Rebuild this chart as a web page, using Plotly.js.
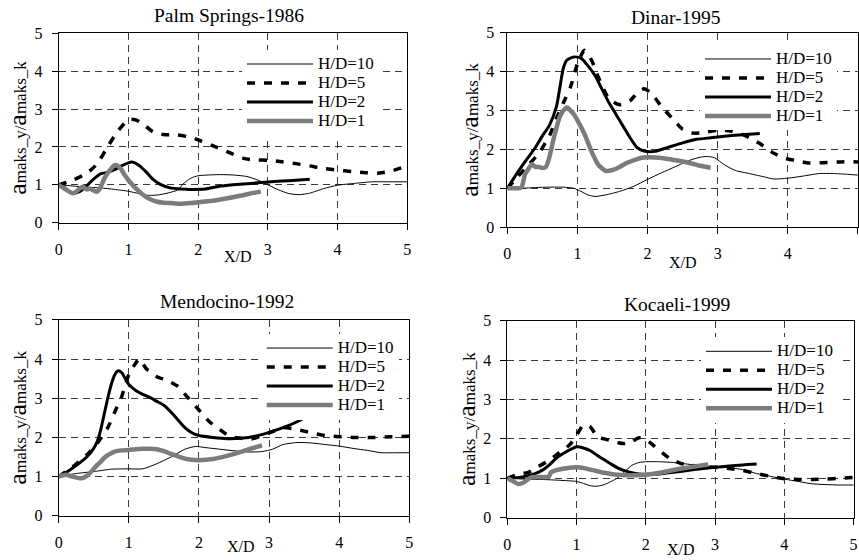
<!DOCTYPE html>
<html><head><meta charset="utf-8">
<script src="https://cdn.plot.ly/plotly-3.0.1.min.js"></script>
<style>html,body{margin:0;padding:0;background:#fff}#chart{width:859px;height:560px}</style>
</head><body><div id="chart"></div>
<script>
const seriesNames = ['H/D=10', 'H/D=5', 'H/D=2', 'H/D=1'];
const panelTitles = ['Palm Springs-1986', 'Dinar-1995', 'Mendocino-1992', 'Kocaeli-1999'];
const tickValues = [0, 1, 2, 3, 4, 5];
const xTitleText = 'X/D';

// Palm Springs-1986
const ps_x10 = [0,0.2,0.4,0.6,0.8,1.0,1.15,1.3,1.45,1.6,1.7,1.8,1.9,2.0,2.15,2.3,2.5,2.7,2.85,3.0,3.15,3.3,3.45,3.6,3.8,4.0,4.25,4.5,4.75,5.0];
const ps_y10 = [1.0,0.97,0.94,0.92,0.88,0.83,0.77,0.72,0.74,0.8,0.86,1.05,1.18,1.24,1.26,1.27,1.26,1.22,1.13,1.0,0.87,0.77,0.74,0.78,0.9,0.99,1.04,1.08,1.08,1.08];
const ps_x5 = [0,0.2,0.4,0.55,0.7,0.85,1.0,1.1,1.2,1.35,1.5,1.7,1.9,2.05,2.25,2.45,2.65,2.8,3.0,3.2,3.4,3.6,3.8,4.0,4.2,4.4,4.6,4.8,5.0];
const ps_y5 = [1.0,1.12,1.3,1.55,2.0,2.42,2.72,2.72,2.62,2.4,2.33,2.32,2.25,2.15,2.0,1.85,1.7,1.66,1.65,1.61,1.56,1.5,1.43,1.39,1.35,1.32,1.31,1.38,1.5];
const ps_x2 = [0,0.1,0.2,0.3,0.4,0.5,0.6,0.7,0.8,0.9,1.0,1.05,1.15,1.25,1.35,1.45,1.6,1.75,1.9,2.1,2.3,2.5,2.7,2.9,3.1,3.3,3.6];
const ps_y2 = [1.0,0.9,0.78,0.82,0.97,1.15,1.29,1.33,1.4,1.5,1.58,1.6,1.52,1.35,1.15,1.02,0.92,0.89,0.88,0.89,0.96,1.0,1.03,1.06,1.09,1.11,1.15];
const ps_x1 = [0,0.1,0.2,0.25,0.3,0.35,0.4,0.45,0.5,0.55,0.6,0.65,0.7,0.75,0.8,0.85,0.9,0.95,1.0,1.1,1.2,1.3,1.4,1.5,1.6,1.75,1.9,2.0,2.2,2.4,2.6,2.75,2.9];
const ps_y1 = [1.0,0.88,0.78,0.82,0.9,0.95,0.88,0.9,0.85,0.82,0.93,1.15,1.3,1.42,1.52,1.5,1.4,1.25,1.12,0.92,0.75,0.63,0.56,0.53,0.52,0.5,0.52,0.54,0.58,0.64,0.71,0.77,0.82];

// Dinar-1995
const di_x10 = [0,0.2,0.4,0.6,0.8,0.95,1.05,1.15,1.25,1.4,1.6,1.8,2.0,2.2,2.4,2.6,2.75,2.85,2.95,3.1,3.25,3.45,3.65,3.8,4.0,4.2,4.45,4.65,4.85,5.0];
const di_y10 = [1.0,1.0,1.02,1.03,1.03,1.0,0.92,0.83,0.79,0.83,0.92,1.05,1.23,1.4,1.56,1.72,1.8,1.82,1.79,1.6,1.46,1.38,1.3,1.24,1.26,1.31,1.38,1.38,1.36,1.34];
const di_x5 = [0,0.15,0.3,0.45,0.6,0.7,0.8,0.9,1.0,1.1,1.2,1.3,1.45,1.6,1.75,1.85,1.95,2.05,2.2,2.35,2.5,2.65,2.8,3.0,3.2,3.4,3.6,3.8,3.95,4.1,4.3,4.5,4.75,5.0];
const di_y5 = [1.0,1.3,1.6,1.9,2.35,2.8,3.2,3.6,4.2,4.55,4.3,3.85,3.3,3.15,3.25,3.45,3.56,3.45,3.1,2.8,2.52,2.42,2.43,2.5,2.47,2.35,2.15,1.9,1.78,1.72,1.65,1.66,1.68,1.68];
const di_x2 = [0,0.1,0.2,0.3,0.4,0.5,0.6,0.7,0.75,0.8,0.85,0.95,1.05,1.15,1.25,1.35,1.45,1.55,1.65,1.75,1.85,1.95,2.1,2.3,2.5,2.7,2.9,3.1,3.3,3.6];
const di_y2 = [1.0,1.28,1.55,1.8,2.05,2.35,2.62,3.1,3.6,4.1,4.3,4.38,4.35,4.15,3.9,3.55,3.2,2.9,2.6,2.3,2.05,1.96,1.95,2.06,2.17,2.26,2.3,2.34,2.37,2.41];
const di_x1 = [0,0.1,0.2,0.25,0.3,0.35,0.4,0.45,0.5,0.55,0.6,0.65,0.7,0.75,0.8,0.85,0.9,0.95,1.0,1.1,1.2,1.3,1.4,1.5,1.6,1.7,1.8,1.9,2.0,2.2,2.4,2.6,2.75,2.9];
const di_y1 = [1.0,1.0,1.02,1.35,1.5,1.62,1.55,1.55,1.52,1.55,1.8,2.2,2.55,2.85,3.0,3.08,3.0,2.9,2.75,2.4,1.95,1.6,1.45,1.47,1.55,1.65,1.72,1.78,1.8,1.78,1.72,1.65,1.58,1.53];

// Mendocino-1992
const me_x10 = [0,0.25,0.5,0.75,1.0,1.2,1.4,1.6,1.8,1.95,2.1,2.3,2.5,2.7,2.9,3.05,3.2,3.4,3.6,3.8,4.0,4.2,4.4,4.6,4.8,5.0];
const me_y10 = [1.0,1.08,1.13,1.19,1.2,1.2,1.33,1.5,1.7,1.77,1.74,1.7,1.66,1.63,1.64,1.7,1.82,1.87,1.86,1.82,1.78,1.72,1.67,1.61,1.61,1.61];
const me_x5 = [0,0.2,0.4,0.55,0.7,0.8,0.9,1.0,1.1,1.15,1.25,1.4,1.55,1.7,1.85,2.0,2.15,2.3,2.45,2.6,2.75,2.9,3.05,3.2,3.4,3.6,3.8,4.0,4.2,4.5,4.75,5.0];
const me_y5 = [1.0,1.25,1.55,1.85,2.25,2.65,3.05,3.6,3.9,4.0,3.75,3.55,3.45,3.3,3.0,2.7,2.4,2.2,2.02,1.98,1.96,2.05,2.15,2.25,2.2,2.12,2.05,2.02,2.0,2.0,2.02,2.03];
const me_x2 = [0,0.1,0.2,0.3,0.4,0.5,0.55,0.6,0.65,0.7,0.75,0.8,0.85,0.9,0.95,1.0,1.1,1.2,1.3,1.4,1.5,1.6,1.7,1.8,1.9,2.0,2.2,2.4,2.6,2.8,3.0,3.2,3.4,3.6];
const me_y2 = [1.0,1.1,1.22,1.35,1.5,1.72,1.9,2.2,2.6,3.0,3.35,3.6,3.7,3.65,3.5,3.35,3.2,3.1,3.02,2.92,2.82,2.65,2.45,2.25,2.12,2.05,2.0,1.97,1.98,2.03,2.13,2.25,2.4,2.6];
const me_x1 = [0,0.1,0.2,0.3,0.35,0.4,0.45,0.5,0.55,0.6,0.65,0.7,0.75,0.8,0.9,1.0,1.1,1.2,1.3,1.4,1.5,1.6,1.7,1.8,1.9,2.0,2.2,2.4,2.6,2.75,2.9];
const me_y1 = [1.0,1.05,1.0,0.96,0.97,1.02,1.1,1.2,1.3,1.38,1.48,1.55,1.6,1.64,1.67,1.68,1.7,1.71,1.71,1.7,1.65,1.58,1.52,1.46,1.43,1.42,1.45,1.53,1.63,1.72,1.8];

// Kocaeli-1999
const ko_x10 = [0,0.25,0.5,0.75,1.0,1.1,1.2,1.3,1.4,1.5,1.6,1.7,1.8,1.9,2.0,2.2,2.4,2.6,2.8,3.0,3.2,3.4,3.6,3.8,4.0,4.2,4.4,4.6,4.8,5.0];
const ko_y10 = [1.0,0.98,0.97,0.95,0.92,0.87,0.81,0.8,0.84,0.92,1.02,1.18,1.33,1.4,1.42,1.42,1.4,1.36,1.32,1.3,1.27,1.22,1.12,1.05,0.98,0.92,0.86,0.84,0.83,0.83];
const ko_x5 = [0,0.15,0.3,0.45,0.6,0.75,0.9,1.0,1.1,1.2,1.3,1.4,1.5,1.6,1.7,1.8,1.9,2.0,2.1,2.2,2.35,2.5,2.65,2.8,3.0,3.2,3.4,3.6,3.8,4.0,4.2,4.4,4.6,4.8,5.0];
const ko_y5 = [1.0,1.1,1.15,1.3,1.45,1.65,1.85,2.1,2.35,2.3,2.05,2.0,1.95,1.9,1.88,1.93,2.03,1.98,1.85,1.7,1.5,1.38,1.33,1.3,1.28,1.25,1.2,1.12,1.05,0.99,0.97,0.97,0.98,1.0,1.02];
const ko_x2 = [0,0.2,0.4,0.5,0.6,0.7,0.8,0.9,1.0,1.1,1.2,1.3,1.4,1.5,1.6,1.7,1.8,1.9,2.0,2.2,2.4,2.6,2.8,3.0,3.2,3.4,3.6];
const ko_y2 = [1.0,1.03,1.12,1.2,1.33,1.5,1.62,1.72,1.8,1.77,1.7,1.58,1.47,1.36,1.26,1.19,1.14,1.11,1.1,1.11,1.15,1.2,1.24,1.28,1.31,1.34,1.36];
const ko_x1 = [0,0.08,0.15,0.22,0.3,0.35,0.45,0.55,0.6,0.63,0.7,0.8,0.9,1.0,1.1,1.2,1.3,1.4,1.5,1.6,1.7,1.8,1.9,2.0,2.2,2.4,2.6,2.75,2.9];
const ko_y1 = [1.0,0.93,0.86,0.88,0.98,1.03,1.03,1.03,1.04,1.15,1.2,1.24,1.27,1.28,1.26,1.22,1.18,1.14,1.11,1.09,1.08,1.08,1.08,1.09,1.14,1.21,1.27,1.31,1.35];

const panelData = [
  [[ps_x10, ps_y10], [ps_x5, ps_y5], [ps_x2, ps_y2], [ps_x1, ps_y1]],
  [[di_x10, di_y10], [di_x5, di_y5], [di_x2, di_y2], [di_x1, di_y1]],
  [[me_x10, me_y10], [me_x5, me_y5], [me_x2, me_y2], [me_x1, me_y1]],
  [[ko_x10, ko_y10], [ko_x5, ko_y5], [ko_x2, ko_y2], [ko_x1, ko_y1]]
];

const lineStyles = [
  {color: '#000000', width: 1, dash: 'solid'},
  {color: '#000000', width: 3.5, dash: '8px,9px'},
  {color: '#000000', width: 3, dash: 'solid'},
  {color: '#7c7c7c', width: 4.5, dash: 'solid'}
];

const FONT = 'Liberation Serif, Times New Roman, serif';
const traces = [];
panelData.forEach((panel, p) => {
  const sfx = p === 0 ? '' : String(p + 1);
  panel.forEach((s, i) => {
    traces.push({
      type: 'scatter', mode: 'lines',
      x: s[0], y: s[1],
      xaxis: 'x' + sfx, yaxis: 'y' + sfx,
      name: '<span style="font-size:17px">' + seriesNames[i] + '</span>',
      legend: 'legend' + sfx,
      line: Object.assign({shape: 'spline', smoothing: 0.6}, lineStyles[i]),
      hoverinfo: 'x+y'
    });
  });
});

const xDomains = [[0.0683, 0.4742], [0.5906, 0.9988], [0.0683, 0.4765], [0.5906, 0.9937]];
const yDomains = [[0.6023, 0.9405], [0.5943, 0.9414], [0.0788, 0.4289], [0.0755, 0.4275]];
const legendPos = [[0.2817, 0.9116], [0.8149, 0.9206], [0.3047, 0.4044], [0.8161, 0.3986]];
const titlePos = [[0.2662, 0.9732], [0.787, 0.9679], [0.2648, 0.4613], [0.7887, 0.4554]];
const xTitlePos = [[0.2771, 0.5411], [0.7951, 0.5321], [0.2806, 0.0238], [0.7928, 0.0179]];

const yTitle = '<span style="font-size:26px">a</span>maks_y/<span style="font-size:26px">a</span>maks_k';

const layout = {
  width: 859, height: 560,
  margin: {l: 0, r: 0, t: 0, b: 0},
  paper_bgcolor: '#ffffff', plot_bgcolor: '#ffffff',
  font: {family: FONT, color: '#000000', size: 16},
  showlegend: true,
  annotations: []
};

for (let p = 0; p < 4; p++) {
  const sfx = p === 0 ? '' : String(p + 1);
  layout['xaxis' + sfx] = {
    domain: xDomains[p], anchor: 'y' + sfx, range: [0, 5],
    tickmode: 'array', tickvals: tickValues, ticktext: tickValues.map(String),
    showgrid: true, gridcolor: '#3a3a3a', griddash: '7px,5px', gridwidth: 1,
    showline: true, linecolor: '#000000', linewidth: 1, mirror: true,
    ticks: 'outside', ticklen: 6, tickcolor: '#000000',
    tickfont: {size: 16, family: FONT, color: '#000000'}, ticklabelstandoff: 6,
    zeroline: false, fixedrange: true
  };
  layout['yaxis' + sfx] = {
    domain: yDomains[p], anchor: 'x' + sfx, range: [0, 5],
    tickmode: 'array', tickvals: tickValues, ticktext: tickValues.map(String),
    showgrid: true, gridcolor: '#3a3a3a', griddash: '7px,5px', gridwidth: 1,
    showline: true, linecolor: '#000000', linewidth: 1, mirror: true,
    ticks: 'outside', ticklen: 6, tickcolor: '#000000',
    tickfont: {size: 16, family: FONT, color: '#000000'}, ticklabelstandoff: (p === 1 ? 3 : 6),
    zeroline: false, fixedrange: true,
    title: {text: yTitle, font: {size: 17, family: FONT, color: '#000000'}, standoff: 3}
  };
  layout['legend' + sfx] = {
    x: legendPos[p][0], y: legendPos[p][1], xanchor: 'left', yanchor: 'top',
    xref: 'paper', yref: 'paper',
    bgcolor: '#ffffff', borderwidth: 0,
    font: {size: 12, family: FONT, color: '#000000'},
    itemwidth: 66, tracegroupgap: 0, traceorder: 'normal'
  };
  layout.annotations.push({
    text: panelTitles[p], xref: 'paper', yref: 'paper',
    x: titlePos[p][0], y: titlePos[p][1], xanchor: 'center', yanchor: 'middle',
    showarrow: false, font: {size: 19.5, family: FONT, color: '#000000'}
  });
  layout.annotations.push({
    text: xTitleText, xref: 'paper', yref: 'paper',
    x: xTitlePos[p][0], y: xTitlePos[p][1], xanchor: 'center', yanchor: 'middle',
    showarrow: false, font: {size: 16, family: FONT, color: '#000000'}
  });
}

Plotly.newPlot('chart', traces, layout, {displayModeBar: false, responsive: false, staticPlot: false});
</script>
</body></html>
